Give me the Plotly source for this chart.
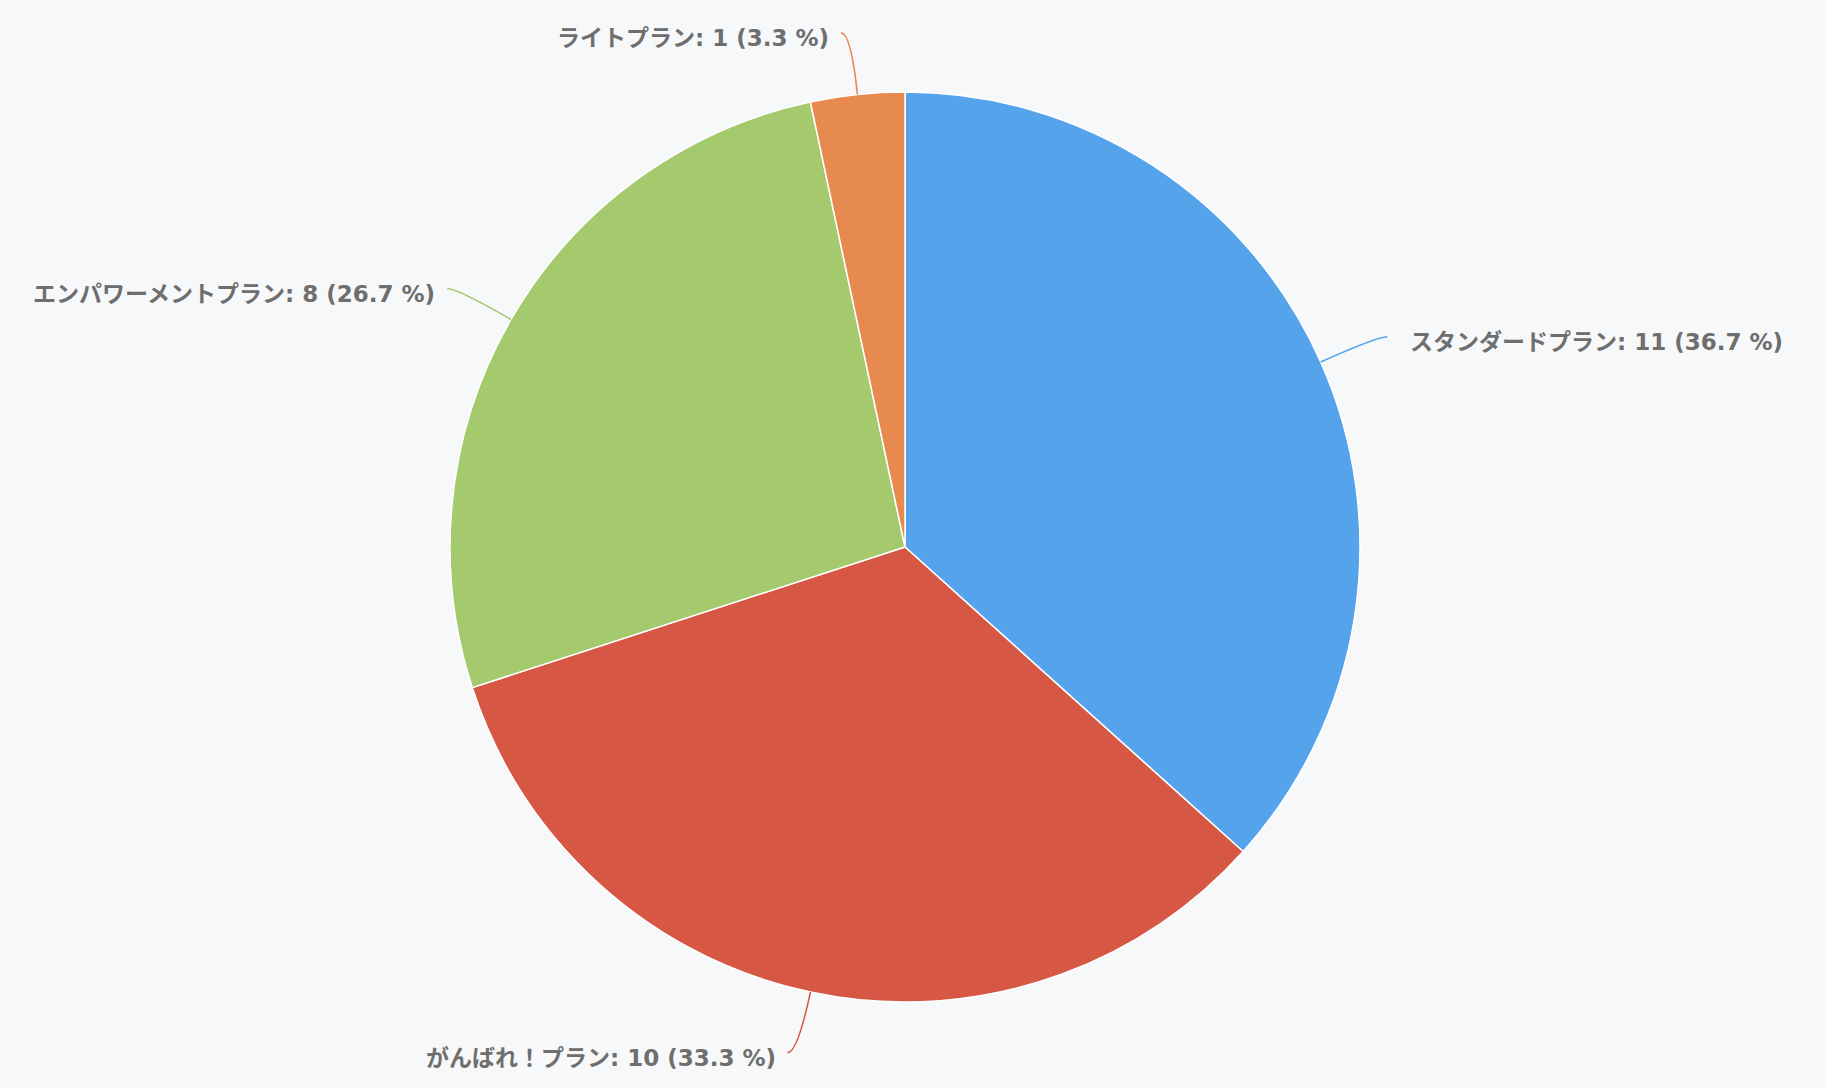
import math
import plotly.graph_objects as go

labels = ["スタンダードプラン", "がんばれ！プラン", "エンパワーメントプラン", "ライトプラン"]
values = [11, 10, 8, 1]
colors = ["#55A3EB", "#D75745", "#A5CA6E", "#E68A50"]

W, H = 1826, 1088
CX, CY, R = 905, 547, 455          # pie centre / radius in pixels
L1, L2, DY = 62, 10, 5              # leader line lengths, text drop
GAP_R, GAP_L = 21, 10               # text gap on right / left side
BG = "#F7F8FA"
TEXT_COLOR = "#6E6E6E"

fig = go.Figure()
fig.add_trace(go.Pie(
    labels=labels, values=values, sort=False, direction="clockwise", rotation=0,
    marker=dict(colors=colors, line=dict(color="white", width=1.5)),
    textinfo="none", hoverinfo="label+value+percent", showlegend=False,
    domain=dict(x=[(CX - R) / W, (CX + R) / W], y=[1 - (CY + R) / H, 1 - (CY - R) / H]),
))

def px(x, y):
    return x / W, 1 - y / H

total = sum(values)
shapes, annotations = [], []
acc = 0
for lab, v, c in zip(labels, values, colors):
    mid = (acc + v / 2) / total * 2 * math.pi
    acc += v
    sx, sy = math.sin(mid), -math.cos(mid)
    ex, ey = CX + R * sx, CY + R * sy
    kx, ky = CX + (R + L1) * sx, CY + (R + L1) * sy
    side = 1 if sx >= 0 else -1
    tx, ty = kx + side * L2, ky
    p0, p1, p2 = px(ex, ey), px(kx, ky), px(tx, ty)
    shapes.append(dict(
        type="path", xref="paper", yref="paper",
        path=f"M {p0[0]},{p0[1]} Q {p1[0]},{p1[1]} {p2[0]},{p2[1]}",
        line=dict(color=c, width=1.6),
    ))
    pct = v / total * 100
    gap = GAP_R if side > 0 else GAP_L
    ax, ay = px(tx + side * gap, ty + DY)
    annotations.append(dict(
        x=ax, y=ay, xref="paper", yref="paper", showarrow=False,
        xanchor="left" if side > 0 else "right", yanchor="middle",
        text=f"<b>{lab}: {v} ({pct:.1f} %)</b>",
        font=dict(size=23, color=TEXT_COLOR, family="DejaVu Sans, Noto Sans CJK JP"),
    ))

fig.update_layout(
    width=W, height=H, margin=dict(l=0, r=0, t=0, b=0),
    paper_bgcolor=BG, plot_bgcolor=BG,
    shapes=shapes, annotations=annotations,
)
fig.write_html(
    "out.html",
    config={"displayModeBar": False},
    post_script="document.body.style.margin='0';document.body.style.background='%s';" % BG,
)
